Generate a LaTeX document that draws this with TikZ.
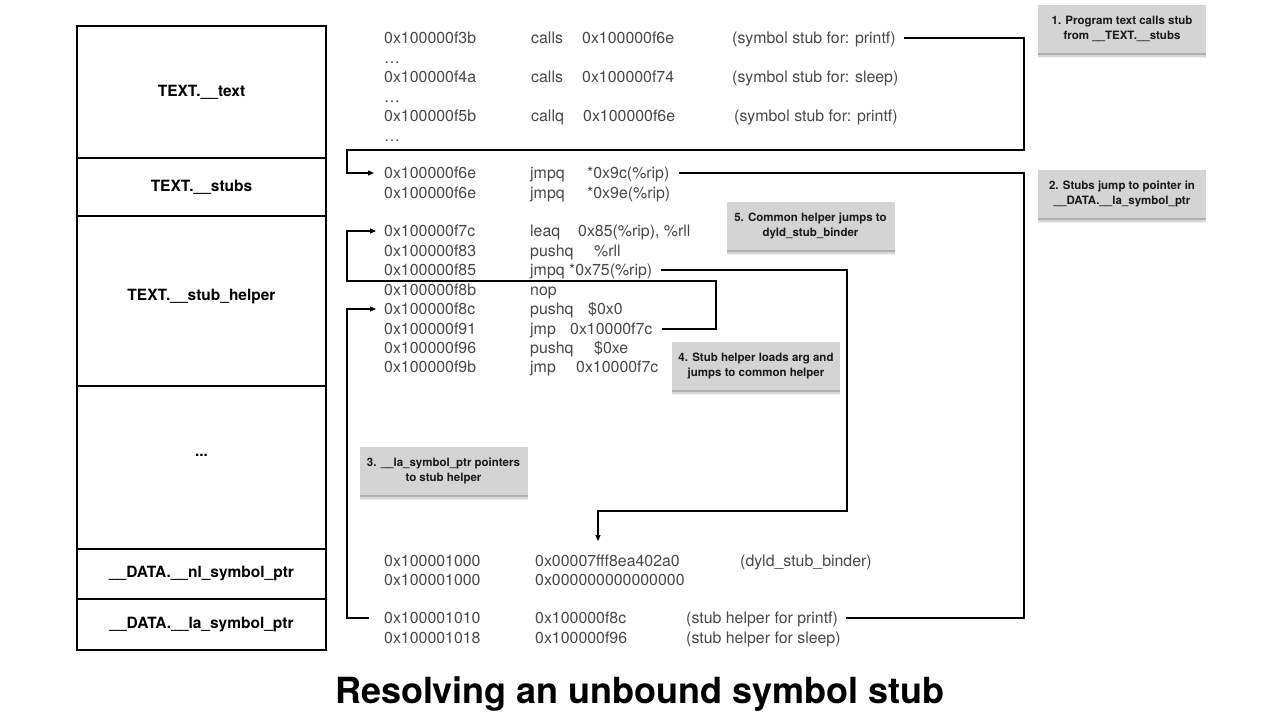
\documentclass[tikz,border=0pt]{standalone}
\usepackage{fontspec}
\setmainfont{TeX Gyre Heros}
\usetikzlibrary{shadows,arrows.meta,calc}
\definecolor{codegray}{RGB}{72,72,72}
\definecolor{notegray}{RGB}{212,212,212}
\begin{document}
\begin{tikzpicture}[x=1pt,y=-1pt,
  code/.style={anchor=west,inner sep=0pt,text height=11pt,text depth=0pt,font=\fontsize{15.9}{18}\selectfont,text=codegray},
  seg/.style={draw=black,line width=2.4pt,minimum width=249pt,inner sep=0pt,font=\fontsize{15.5}{18}\selectfont\bfseries},
  note/.style={fill=notegray,minimum width=168pt,minimum height=48pt,align=center,inner sep=0pt,
    font=\fontsize{11.5}{15.5}\selectfont\bfseries,text=black!90,
    general shadow={shadow xshift=0pt,shadow yshift=-5pt,opacity=0.06,fill=black},
    general shadow={shadow xshift=0pt,shadow yshift=-3.5pt,opacity=0.1,fill=black},
    general shadow={shadow xshift=0pt,shadow yshift=-2pt,opacity=0.18,fill=black}},
  conn/.style={draw=black,line width=1.2pt},
  arr/.style={conn,-{Triangle[length=6pt,width=5pt]}}]
\useasboundingbox (0,0) rectangle (1280,720);
\fill[white] (0,0) rectangle (1280,720);

% left segment column
\node[seg,minimum height=132pt] (bText)   at (201.5,92)    {\raisebox{-3pt}{TEXT.\_\_text}};
\node[seg,minimum height=58pt]  (bStubs)  at (201.5,187)   {TEXT.\_\_stubs};
\node[seg,minimum height=170pt] (bHelper) at (201.5,301)   {\raisebox{13pt}{TEXT.\_\_stub\_helper}};
\node[seg,minimum height=163pt] (bDots)   at (201.5,467.5) {\raisebox{24pt}{...}};
\node[seg,minimum height=50pt]  (bNl)     at (201.5,574)   {\_\_DATA.\_\_nl\_symbol\_ptr};
\node[seg,minimum height=51pt]  (bLa)     at (201.5,624.5) {\raisebox{-2pt}{\_\_DATA.\_\_la\_symbol\_ptr}};

% __text
\node[code] (r1a) at (384,38) {0x100000f3b};
\node[code] (r1m) at (531,38) {calls};
\node[code] (r1o) at (582,38) {0x100000f6e};
\node[code] (r1c) at (732,38) {(symbol stub for: printf)};
\node[code] (e1)  at (384,57.5) {…};
\node[code] (r2a) at (384,77) {0x100000f4a};
\node[code] (r2m) at (531,77) {calls};
\node[code] (r2o) at (582,77) {0x100000f74};
\node[code] (r2c) at (732,77) {(symbol stub for: sleep)};
\node[code] (e2)  at (384,96.5) {…};
\node[code] (r3a) at (384,116) {0x100000f5b};
\node[code] (r3m) at (531,116) {callq};
\node[code] (r3o) at (583,116) {0x100000f6e};
\node[code] (r3c) at (734,116) {(symbol stub for: printf)};
\node[code] (e3)  at (384,135.5) {…};

% __stubs
\node[code] (s1a) at (384,173) {0x100000f6e};
\node[code] (s1m) at (530,173) {jmpq};
\node[code] (s1o) at (587,173) {*0x9c(\%rip)};
\node[code] (s2a) at (384,193) {0x100000f6e};
\node[code] (s2m) at (530,193) {jmpq};
\node[code] (s2o) at (587,193) {*0x9e(\%rip)};

% __stub_helper
\node[code] (h1a) at (384,231) {0x100000f7c};
\node[code] (h1m) at (530,231) {leaq};
\node[code] (h1o) at (578,231) {0x85(\%rip), \%rll};
\node[code] (h2a) at (384,251) {0x100000f83};
\node[code] (h2m) at (530,251) {pushq};
\node[code] (h2o) at (594,251) {\%rll};
\node[code] (h3a) at (384,270) {0x100000f85};
\node[code] (h3m) at (530,270) {jmpq *0x75(\%rip)};
\node[code] (h4a) at (384,290) {0x100000f8b};
\node[code] (h4m) at (530,290) {nop};
\node[code] (h5a) at (384,309) {0x100000f8c};
\node[code] (h5m) at (530,309) {pushq};
\node[code] (h5o) at (588,309) {\$0x0};
\node[code] (h6a) at (384,329) {0x100000f91};
\node[code] (h6m) at (530,329) {jmp};
\node[code] (h6o) at (570,329) {0x10000f7c};
\node[code] (h7a) at (384,348) {0x100000f96};
\node[code] (h7m) at (530,348) {pushq};
\node[code] (h7o) at (594,348) {\$0xe};
\node[code] (h8a) at (384,367) {0x100000f9b};
\node[code] (h8m) at (530,367) {jmp};
\node[code] (h8o) at (576,367) {0x10000f7c};

% data
\node[code] (d1a) at (384,561) {0x100001000};
\node[code] (d1v) at (535,561) {0x00007fff8ea402a0};
\node[code] (d1c) at (740,561) {(dyld\_stub\_binder)};
\node[code] (d2a) at (384,580) {0x100001000};
\node[code] (d2v) at (535,580) {0x000000000000000};
\node[code] (l1a) at (384,618) {0x100001010};
\node[code] (l1v) at (535,618) {0x100000f8c};
\node[code] (l1c) at (686,618) {(stub helper for printf)};
\node[code] (l2a) at (384,638) {0x100001018};
\node[code] (l2v) at (535,638) {0x100000f96};
\node[code] (l2c) at (686,638) {(stub helper for sleep)};

% notes
\node[note] (n1) at (1122,29)   {1. Program text calls stub\\from \_\_TEXT.\_\_stubs};
\node[note] (n2) at (1122,194)  {2. Stubs jump to pointer in\\\_\_DATA.\_\_la\_symbol\_ptr};
\node[note] (n3) at (443.5,471) {3. \_\_la\_symbol\_ptr pointers\\to stub helper};
\node[note] (n4) at (756,366)   {4. Stub helper loads arg and\\jumps to common helper};
\node[note] (n5) at (810.5,226) {5. Common helper jumps to\\dyld\_stub\_binder};

% corner points
\coordinate (k1a) at (1024,150);
\coordinate (k1b) at (347,150);
\coordinate (k2)  at (1024,400);
\coordinate (k3)  at (347,450);
\coordinate (k4a) at (716,281);
\coordinate (k4b) at (347,281);
\coordinate (k5a) at (847,511);
\coordinate (k5b) at (598,511);
\coordinate (k5c) at (598,541);

% connectors
\draw[arr] ([xshift=8pt]r1c.east) -| (k1a) -- (k1b) |- ([xshift=-10pt]s1a.west);
\draw[conn] ([xshift=9pt]s1o.east) -| (k2) |- ([xshift=8pt]l1c.east);
\draw[arr] ([xshift=-15pt]l1a.west) -| (k3) |- ([xshift=-8pt]h5a.west);
\draw[arr] ([xshift=9pt]h6o.east) -| (k4a) -- (k4b) |- ([xshift=-8pt]h1a.west);
\draw[arr] ([xshift=9pt]h3m.east) -| (k5a) -- (k5b) -- (k5c);

% title
\node[anchor=base,inner sep=0pt,font=\fontsize{36}{40}\selectfont\bfseries] (title) at (640,703) {Resolving an unbound symbol stub};
\end{tikzpicture}
\end{document}
